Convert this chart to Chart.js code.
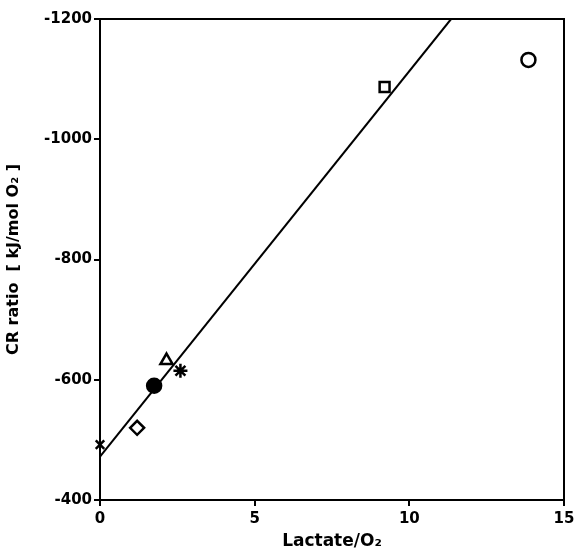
<!DOCTYPE html>
<html>
<head>
<meta charset="utf-8">
<script src="https://cdn.jsdelivr.net/npm/chart.js@4/dist/chart.umd.min.js"></script>
<style>
  html, body { margin: 0; padding: 0; background: #fff; }
  #wrap { width: 575px; height: 556px; }
</style>
</head>
<body>
<div id="wrap"><canvas id="chart"></canvas></div>
<script>
// measured points, one per marker
const lactate = [0, 1.2, 1.75, 2.15, 2.6, 9.2, 13.85];
const crRatio = [-492, -520, -590, -632, -615, -1087, -1132];
const markers = ['crossRot', 'rectRot', 'circle', 'triangle', 'star', 'rect', 'circle'];
const filled = [false, false, true, false, false, false, false];

// regression line ends
const lineX = [0, 11.35];
const lineY = [-472, -1200];

const yTicks = [-1200, -1000, -800, -600, -400];
const xTicks = [0, 5, 10, 15];

const font = { family: 'DejaVu Sans', size: 15, weight: 'bold' };

const boxPlugin = {
  id: 'box',
  afterDraw(chart) {
    const { ctx, chartArea: a } = chart;
    ctx.save();
    ctx.strokeStyle = '#000';
    ctx.lineWidth = 2;
    ctx.strokeRect(a.left, a.top, a.right - a.left, a.bottom - a.top);
    ctx.restore();
  }
};

const points = lactate.map((x, i) => ({ x: x, y: crRatio[i] }));

new Chart(document.getElementById('chart'), {
  type: 'scatter',
  data: {
    datasets: [
      {
        data: points,
        pointStyle: markers,
        pointRadius: [6, 7, 7, 7, 7, 7, 7],
        pointBorderWidth: 2.5,
        pointBorderColor: '#000',
        pointBackgroundColor: filled.map(f => f ? '#000' : '#fff'),
        showLine: false,
        clip: false
      },
      {
        data: lineX.map((x, i) => ({ x: x, y: lineY[i] })),
        showLine: true,
        borderColor: '#000',
        borderWidth: 2,
        pointRadius: 0
      }
    ]
  },
  options: {
    responsive: true,
    maintainAspectRatio: false,
    animation: false,
    layout: { padding: { top: 19, right: 11, left: 0, bottom: 0 } },
    plugins: { legend: { display: false }, tooltip: { enabled: false } },
    scales: {
      x: {
        type: 'linear',
        min: 0, max: 15,
        afterBuildTicks: s => { s.ticks = xTicks.map(v => ({ value: v })); },
        afterFit: s => { s.height = 56; s.paddingRight = 0; s.paddingLeft = 0; },
        grid: { drawOnChartArea: false, tickLength: 6, color: '#000', lineWidth: 2 },
        border: { color: '#000', width: 2 },
        ticks: { color: '#000', font: font, padding: 4, callback: v => String(v) },
        title: {
          display: true, text: 'Lactate/O₂', color: '#000',
          font: { family: 'DejaVu Sans', size: 17, weight: 'bold' }, padding: { top: 0 }
        }
      },
      y: {
        type: 'linear',
        reverse: true,
        min: -1200, max: -400,
        afterBuildTicks: s => { s.ticks = yTicks.map(v => ({ value: v })); },
        afterFit: s => { s.width = 100; },
        grid: { drawOnChartArea: false, tickLength: 6, color: '#000', lineWidth: 2 },
        border: { color: '#000', width: 2 },
        ticks: { color: '#000', font: font, padding: 2, callback: v => String(v) },
        title: {
          display: true, text: 'CR ratio  [ kJ/mol O₂ ]', color: '#000',
          font: { family: 'DejaVu Sans', size: 16, weight: 'bold' }, padding: { bottom: 0 }
        }
      }
    }
  },
  plugins: [boxPlugin]
});
</script>
</body>
</html>
